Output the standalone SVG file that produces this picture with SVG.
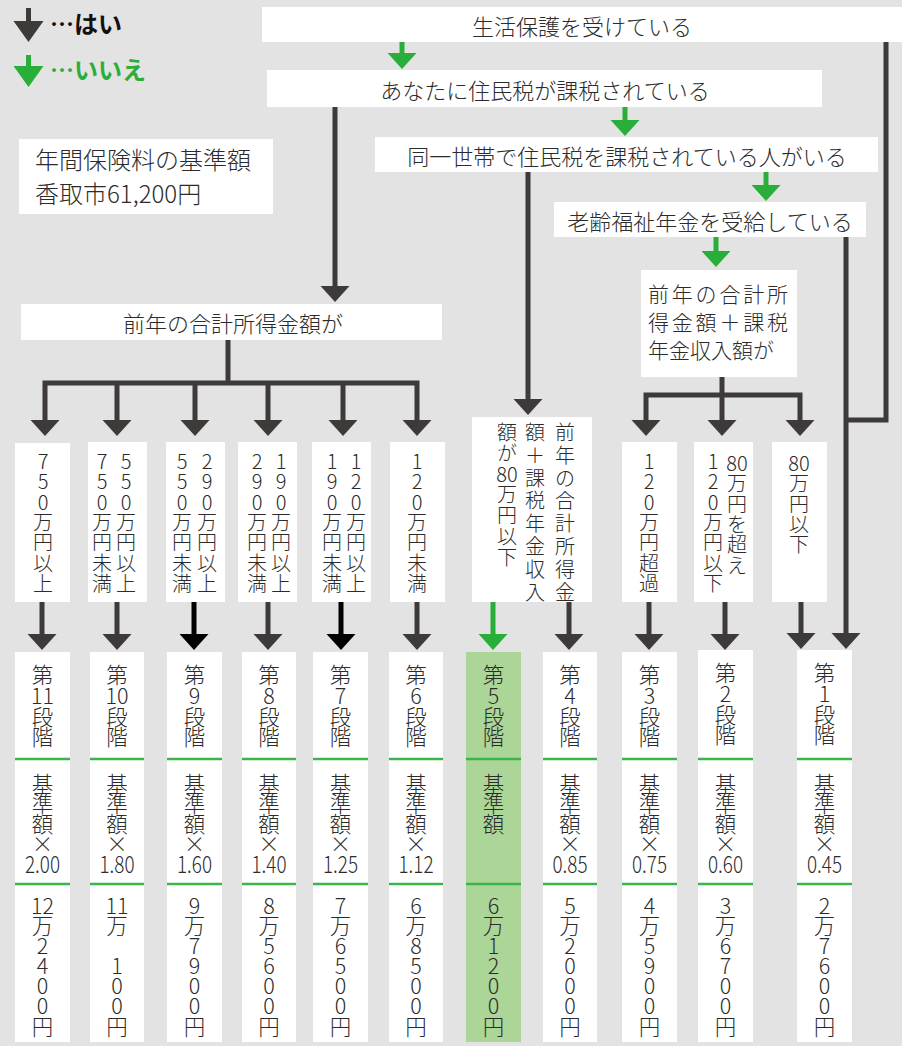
<svg xmlns="http://www.w3.org/2000/svg" xmlns:xlink="http://www.w3.org/1999/xlink" width="902" height="1046" viewBox="0 0 902 1046">
<defs>
<style>
.t{font-family:"Noto Sans CJK JP","Noto Sans",sans-serif;fill:#2b2b2b;font-weight:300}
.h{font-size:22px;text-anchor:middle;dominant-baseline:central}
.v{text-anchor:middle;dominant-baseline:central}
.r1{font-size:20px}
.bt{font-size:21.5px}
.fx{font-size:23px}
.lg{font-size:24px;font-weight:bold}
.box{fill:#fff}
.dk{stroke:#3e3a39;stroke-width:5;fill:none}
.bk{stroke:#000;stroke-width:5;fill:none}
.gn{stroke:#2aae3a;stroke-width:5;fill:none}
.dkf{fill:#3e3a39}
.bkf{fill:#000}
.gnf{fill:#2aae3a}
.div{stroke:#3cb44a;stroke-width:2.5}
</style>
<path id="hd" d="M-14.5,-16 L14.5,-16 L0,0 Z"/>
<path id="lhd" d="M-15,-21 L15,-21 L0,0 Z"/>
</defs>
<rect width="902" height="1046" fill="#e3e3e3"/>

<g id="legend">
<path class="dk" d="M28.5,8 V24"/><use xlink:href="#lhd" class="dkf" transform="translate(28.5,42)"/>
<text class="t lg" x="50" y="33" style="fill:#111">…はい</text>
<path class="gn" d="M28.5,55 V69"/><use xlink:href="#lhd" class="gnf" transform="translate(28.5,87)"/>
<text class="t lg" x="50" y="79" style="fill:#2aae3a">…いいえ</text>
</g>

<g id="connectors">
<path class="gn" d="M402,42 V55"/><use xlink:href="#hd" class="gnf" transform="translate(402,69)"/>
<path class="gn" d="M625,107 V122"/><use xlink:href="#hd" class="gnf" transform="translate(625,136)"/>
<path class="gn" d="M766,172 V187"/><use xlink:href="#hd" class="gnf" transform="translate(766,201)"/>
<path class="gn" d="M716,237 V253"/><use xlink:href="#hd" class="gnf" transform="translate(716,267)"/>
<path class="gn" d="M493,602 V636"/><use xlink:href="#hd" class="gnf" transform="translate(493,650)"/>
<path class="dk" d="M335,107 V288"/><use xlink:href="#hd" class="dkf" transform="translate(335,302)"/>
<path class="dk" d="M528,172 V401"/><use xlink:href="#hd" class="dkf" transform="translate(528,415)"/>
<path class="dk" d="M886,42 V420 H846"/>
<path class="dk" d="M846,237 V635"/><use xlink:href="#hd" class="dkf" transform="translate(846,649)"/>
<path class="dk" d="M228,340 V383"/>
<path class="dk" d="M45,422 V383 H417 V422"/>
<path class="dk" d="M117,383 V422 M195,383 V422 M268,383 V422 M343,383 V422"/>
<use xlink:href="#hd" class="dkf" transform="translate(45,436)"/>
<use xlink:href="#hd" class="dkf" transform="translate(117,436)"/>
<use xlink:href="#hd" class="dkf" transform="translate(195,436)"/>
<use xlink:href="#hd" class="dkf" transform="translate(268,436)"/>
<use xlink:href="#hd" class="dkf" transform="translate(343,436)"/>
<use xlink:href="#hd" class="dkf" transform="translate(417,436)"/>
<path class="dk" d="M722,377 V422"/>
<path class="dk" d="M646,422 V395 H800 V422"/>
<use xlink:href="#hd" class="dkf" transform="translate(646,436)"/>
<use xlink:href="#hd" class="dkf" transform="translate(722,436)"/>
<use xlink:href="#hd" class="dkf" transform="translate(800,436)"/>
<path class="dk" d="M42,602 V636"/><use xlink:href="#hd" class="dkf" transform="translate(42,650)"/>
<path class="dk" d="M117,602 V636"/><use xlink:href="#hd" class="dkf" transform="translate(117,650)"/>
<path class="bk" d="M194,602 V636"/><use xlink:href="#hd" class="bkf" transform="translate(194,650)"/>
<path class="dk" d="M268,602 V636"/><use xlink:href="#hd" class="dkf" transform="translate(268,650)"/>
<path class="bk" d="M341,602 V636"/><use xlink:href="#hd" class="bkf" transform="translate(341,650)"/>
<path class="dk" d="M417,602 V636"/><use xlink:href="#hd" class="dkf" transform="translate(417,650)"/>
<path class="dk" d="M569,602 V636"/><use xlink:href="#hd" class="dkf" transform="translate(569,650)"/>
<path class="dk" d="M649,602 V636"/><use xlink:href="#hd" class="dkf" transform="translate(649,650)"/>
<path class="dk" d="M725,602 V636"/><use xlink:href="#hd" class="dkf" transform="translate(725,650)"/>
<path class="dk" d="M801,602 V635"/><use xlink:href="#hd" class="dkf" transform="translate(801,649)"/>
</g>

<g id="q1"><rect class="box" x="262" y="7" width="640" height="35"/><text class="t h" x="582" y="24.5">生活保護を受けている</text></g>
<g id="q2"><rect class="box" x="267" y="70" width="555" height="37"/><text class="t h" x="545" y="88.5">あなたに住民税が課税されている</text></g>
<g id="q3"><rect class="box" x="375" y="137" width="503" height="35"/><text class="t h" x="627" y="154.5">同一世帯で住民税を課税されている人がいる</text></g>
<g id="q4"><rect class="box" x="554" y="202" width="312" height="35"/><text class="t h" x="710" y="219.5">老齢福祉年金を受給している</text></g>
<g id="info"><rect class="box" x="19" y="139" width="254" height="75"/>
<text class="t" x="35" y="169" font-size="24">年間保険料の基準額</text>
<text class="t" x="35" y="203" font-size="24">香取市61,200円</text></g>
<g id="q5"><rect class="box" x="21" y="304" width="421" height="36"/><text class="t h" x="233" y="322">前年の合計所得金額が</text></g>
<g id="q6"><rect class="box" x="641" y="270" width="156" height="107"/>
<text class="t" font-size="21" x="648" y="302" textLength="140" lengthAdjust="spacing">前年の合計所</text>
<text class="t" font-size="21" x="648" y="330" textLength="140" lengthAdjust="spacing">得金額＋課税</text>
<text class="t" font-size="21" x="648" y="358">年金収入額が</text></g>

<g id="c750"><rect class="box" x="15" y="443" width="55" height="159"/>
<text class="t v r1"><tspan x="43" y="460">7</tspan><tspan x="43" y="480">5</tspan><tspan x="43" y="501">0</tspan><tspan x="43" y="521">万</tspan><tspan x="43" y="541">円</tspan><tspan x="43" y="562">以</tspan><tspan x="43" y="582">上</tspan></text></g>
<g id="c550"><rect class="box" x="88" y="442" width="59" height="160"/>
<text class="t v r1"><tspan x="126" y="460">5</tspan><tspan x="126" y="480">5</tspan><tspan x="126" y="501">0</tspan><tspan x="126" y="521">万</tspan><tspan x="126" y="541">円</tspan><tspan x="126" y="562">以</tspan><tspan x="126" y="582">上</tspan></text>
<text class="t v r1"><tspan x="102" y="460">7</tspan><tspan x="102" y="480">5</tspan><tspan x="102" y="501">0</tspan><tspan x="102" y="521">万</tspan><tspan x="102" y="541">円</tspan><tspan x="102" y="562">未</tspan><tspan x="102" y="582">満</tspan></text></g>
<g id="c290"><rect class="box" x="166" y="442" width="59" height="160"/>
<text class="t v r1"><tspan x="207" y="460">2</tspan><tspan x="207" y="480">9</tspan><tspan x="207" y="501">0</tspan><tspan x="207" y="521">万</tspan><tspan x="207" y="541">円</tspan><tspan x="207" y="562">以</tspan><tspan x="207" y="582">上</tspan></text>
<text class="t v r1"><tspan x="182" y="460">5</tspan><tspan x="182" y="480">5</tspan><tspan x="182" y="501">0</tspan><tspan x="182" y="521">万</tspan><tspan x="182" y="541">円</tspan><tspan x="182" y="562">未</tspan><tspan x="182" y="582">満</tspan></text></g>
<g id="c190"><rect class="box" x="238" y="442" width="59" height="160"/>
<text class="t v r1"><tspan x="281" y="460">1</tspan><tspan x="281" y="480">9</tspan><tspan x="281" y="501">0</tspan><tspan x="281" y="521">万</tspan><tspan x="281" y="541">円</tspan><tspan x="281" y="562">以</tspan><tspan x="281" y="582">上</tspan></text>
<text class="t v r1"><tspan x="257" y="460">2</tspan><tspan x="257" y="480">9</tspan><tspan x="257" y="501">0</tspan><tspan x="257" y="521">万</tspan><tspan x="257" y="541">円</tspan><tspan x="257" y="562">未</tspan><tspan x="257" y="582">満</tspan></text></g>
<g id="c120"><rect class="box" x="312" y="442" width="59" height="160"/>
<text class="t v r1"><tspan x="356" y="460">1</tspan><tspan x="356" y="480">2</tspan><tspan x="356" y="501">0</tspan><tspan x="356" y="521">万</tspan><tspan x="356" y="541">円</tspan><tspan x="356" y="562">以</tspan><tspan x="356" y="582">上</tspan></text>
<text class="t v r1"><tspan x="332" y="460">1</tspan><tspan x="332" y="480">9</tspan><tspan x="332" y="501">0</tspan><tspan x="332" y="521">万</tspan><tspan x="332" y="541">円</tspan><tspan x="332" y="562">未</tspan><tspan x="332" y="582">満</tspan></text></g>
<g id="cu120"><rect class="box" x="390" y="442" width="55" height="160"/>
<text class="t v r1"><tspan x="417" y="460">1</tspan><tspan x="417" y="480">2</tspan><tspan x="417" y="501">0</tspan><tspan x="417" y="521">万</tspan><tspan x="417" y="541">円</tspan><tspan x="417" y="562">未</tspan><tspan x="417" y="582">満</tspan></text></g>
<g id="c80a"><rect class="box" x="472" y="417" width="120" height="185"/>
<text class="t v r1"><tspan x="565" y="431">前</tspan><tspan x="565" y="454">年</tspan><tspan x="565" y="477">の</tspan><tspan x="565" y="499">合</tspan><tspan x="565" y="522">計</tspan><tspan x="565" y="545">所</tspan><tspan x="565" y="568">得</tspan><tspan x="565" y="591">金</tspan></text>
<text class="t v r1"><tspan x="535" y="431">額</tspan><tspan x="535" y="454">＋</tspan><tspan x="535" y="477">課</tspan><tspan x="535" y="499">税</tspan><tspan x="535" y="522">年</tspan><tspan x="535" y="545">金</tspan><tspan x="535" y="568">収</tspan><tspan x="535" y="591">入</tspan></text>
<text class="t v r1"><tspan x="507" y="431">額</tspan><tspan x="507" y="452">が</tspan><tspan x="507" y="473">80</tspan><tspan x="507" y="493">万</tspan><tspan x="507" y="514">円</tspan><tspan x="507" y="535">以</tspan><tspan x="507" y="556">下</tspan></text></g>
<g id="co120"><rect class="box" x="622" y="442" width="55" height="160"/>
<text class="t v r1"><tspan x="649" y="460">1</tspan><tspan x="649" y="480">2</tspan><tspan x="649" y="501">0</tspan><tspan x="649" y="521">万</tspan><tspan x="649" y="541">円</tspan><tspan x="649" y="562">超</tspan><tspan x="649" y="582">過</tspan></text></g>
<g id="c80b"><rect class="box" x="694" y="442" width="59" height="160"/>
<text class="t v r1"><tspan x="737" y="462">80</tspan><tspan x="737" y="482">万</tspan><tspan x="737" y="503">円</tspan><tspan x="737" y="523">を</tspan><tspan x="737" y="543">超</tspan><tspan x="737" y="564">え</tspan></text>
<text class="t v r1"><tspan x="713" y="460">1</tspan><tspan x="713" y="480">2</tspan><tspan x="713" y="501">0</tspan><tspan x="713" y="521">万</tspan><tspan x="713" y="541">円</tspan><tspan x="713" y="562">以</tspan><tspan x="713" y="582">下</tspan></text></g>
<g id="cu80"><rect class="box" x="772" y="442" width="55" height="160"/>
<text class="t v r1"><tspan x="799" y="462">80</tspan><tspan x="799" y="482">万</tspan><tspan x="799" y="503">円</tspan><tspan x="799" y="523">以</tspan><tspan x="799" y="543">下</tspan></text></g>

<g id="s11"><rect class="box" x="15" y="652" width="55" height="390"/><path class="div" d="M15,759 H70 M15,884 H70"/>
<text class="t v bt"><tspan x="42.5" y="673">第</tspan><tspan x="42.5" y="694">11</tspan><tspan x="42.5" y="715">段</tspan><tspan x="42.5" y="735">階</tspan><tspan x="42.5" y="782">基</tspan><tspan x="42.5" y="802">準</tspan><tspan x="42.5" y="822">額</tspan><tspan x="42.5" y="842">×</tspan><tspan x="42.5" y="904">12</tspan><tspan x="42.5" y="924">万</tspan><tspan x="42.5" y="944">2</tspan><tspan x="42.5" y="964">4</tspan><tspan x="42.5" y="984">0</tspan><tspan x="42.5" y="1004">0</tspan><tspan x="42.5" y="1025">円</tspan></text>
<text class="t v fx" x="42.5" y="863" textLength="35" lengthAdjust="spacingAndGlyphs">2.00</text></g>
<g id="s10"><rect class="box" x="90" y="652" width="54" height="390"/><path class="div" d="M90,759 H144 M90,884 H144"/>
<text class="t v bt"><tspan x="117" y="673">第</tspan><tspan x="117" y="694">10</tspan><tspan x="117" y="715">段</tspan><tspan x="117" y="735">階</tspan><tspan x="117" y="782">基</tspan><tspan x="117" y="802">準</tspan><tspan x="117" y="822">額</tspan><tspan x="117" y="842">×</tspan><tspan x="117" y="904">11</tspan><tspan x="117" y="924">万</tspan><tspan x="117" y="964">1</tspan><tspan x="117" y="984">0</tspan><tspan x="117" y="1004">0</tspan><tspan x="117" y="1025">円</tspan></text>
<text class="t v fx" x="117" y="863" textLength="35" lengthAdjust="spacingAndGlyphs">1.80</text></g>
<g id="s9"><rect class="box" x="167" y="652" width="55" height="390"/><path class="div" d="M167,759 H222 M167,884 H222"/>
<text class="t v bt"><tspan x="194.5" y="673">第</tspan><tspan x="194.5" y="694">9</tspan><tspan x="194.5" y="715">段</tspan><tspan x="194.5" y="735">階</tspan><tspan x="194.5" y="782">基</tspan><tspan x="194.5" y="802">準</tspan><tspan x="194.5" y="822">額</tspan><tspan x="194.5" y="842">×</tspan><tspan x="194.5" y="904">9</tspan><tspan x="194.5" y="924">万</tspan><tspan x="194.5" y="944">7</tspan><tspan x="194.5" y="964">9</tspan><tspan x="194.5" y="984">0</tspan><tspan x="194.5" y="1004">0</tspan><tspan x="194.5" y="1025">円</tspan></text>
<text class="t v fx" x="194.5" y="863" textLength="35" lengthAdjust="spacingAndGlyphs">1.60</text></g>
<g id="s8"><rect class="box" x="242" y="652" width="54" height="390"/><path class="div" d="M242,759 H296 M242,884 H296"/>
<text class="t v bt"><tspan x="269" y="673">第</tspan><tspan x="269" y="694">8</tspan><tspan x="269" y="715">段</tspan><tspan x="269" y="735">階</tspan><tspan x="269" y="782">基</tspan><tspan x="269" y="802">準</tspan><tspan x="269" y="822">額</tspan><tspan x="269" y="842">×</tspan><tspan x="269" y="904">8</tspan><tspan x="269" y="924">万</tspan><tspan x="269" y="944">5</tspan><tspan x="269" y="964">6</tspan><tspan x="269" y="984">0</tspan><tspan x="269" y="1004">0</tspan><tspan x="269" y="1025">円</tspan></text>
<text class="t v fx" x="269" y="863" textLength="35" lengthAdjust="spacingAndGlyphs">1.40</text></g>
<g id="s7"><rect class="box" x="313" y="652" width="55" height="390"/><path class="div" d="M313,759 H368 M313,884 H368"/>
<text class="t v bt"><tspan x="340.5" y="673">第</tspan><tspan x="340.5" y="694">7</tspan><tspan x="340.5" y="715">段</tspan><tspan x="340.5" y="735">階</tspan><tspan x="340.5" y="782">基</tspan><tspan x="340.5" y="802">準</tspan><tspan x="340.5" y="822">額</tspan><tspan x="340.5" y="842">×</tspan><tspan x="340.5" y="904">7</tspan><tspan x="340.5" y="924">万</tspan><tspan x="340.5" y="944">6</tspan><tspan x="340.5" y="964">5</tspan><tspan x="340.5" y="984">0</tspan><tspan x="340.5" y="1004">0</tspan><tspan x="340.5" y="1025">円</tspan></text>
<text class="t v fx" x="340.5" y="863" textLength="35" lengthAdjust="spacingAndGlyphs">1.25</text></g>
<g id="s6"><rect class="box" x="389" y="652" width="54" height="390"/><path class="div" d="M389,759 H443 M389,884 H443"/>
<text class="t v bt"><tspan x="416" y="673">第</tspan><tspan x="416" y="694">6</tspan><tspan x="416" y="715">段</tspan><tspan x="416" y="735">階</tspan><tspan x="416" y="782">基</tspan><tspan x="416" y="802">準</tspan><tspan x="416" y="822">額</tspan><tspan x="416" y="842">×</tspan><tspan x="416" y="904">6</tspan><tspan x="416" y="924">万</tspan><tspan x="416" y="944">8</tspan><tspan x="416" y="964">5</tspan><tspan x="416" y="984">0</tspan><tspan x="416" y="1004">0</tspan><tspan x="416" y="1025">円</tspan></text>
<text class="t v fx" x="416" y="863" textLength="35" lengthAdjust="spacingAndGlyphs">1.12</text></g>
<g id="s5"><rect x="466" y="652" width="55" height="390" fill="#acd598"/><path class="div" d="M466,759 H521 M466,884 H521"/>
<text class="t v bt"><tspan x="493.5" y="673">第</tspan><tspan x="493.5" y="694">5</tspan><tspan x="493.5" y="715">段</tspan><tspan x="493.5" y="735">階</tspan><tspan x="493.5" y="782">基</tspan><tspan x="493.5" y="802">準</tspan><tspan x="493.5" y="822">額</tspan><tspan x="493.5" y="904">6</tspan><tspan x="493.5" y="924">万</tspan><tspan x="493.5" y="944">1</tspan><tspan x="493.5" y="964">2</tspan><tspan x="493.5" y="984">0</tspan><tspan x="493.5" y="1004">0</tspan><tspan x="493.5" y="1025">円</tspan></text></g>
<g id="s4"><rect class="box" x="543" y="652" width="54" height="390"/><path class="div" d="M543,759 H597 M543,884 H597"/>
<text class="t v bt"><tspan x="570" y="673">第</tspan><tspan x="570" y="694">4</tspan><tspan x="570" y="715">段</tspan><tspan x="570" y="735">階</tspan><tspan x="570" y="782">基</tspan><tspan x="570" y="802">準</tspan><tspan x="570" y="822">額</tspan><tspan x="570" y="842">×</tspan><tspan x="570" y="904">5</tspan><tspan x="570" y="924">万</tspan><tspan x="570" y="944">2</tspan><tspan x="570" y="964">0</tspan><tspan x="570" y="984">0</tspan><tspan x="570" y="1004">0</tspan><tspan x="570" y="1025">円</tspan></text>
<text class="t v fx" x="570" y="863" textLength="35" lengthAdjust="spacingAndGlyphs">0.85</text></g>
<g id="s3"><rect class="box" x="622" y="652" width="55" height="390"/><path class="div" d="M622,759 H677 M622,884 H677"/>
<text class="t v bt"><tspan x="649.5" y="673">第</tspan><tspan x="649.5" y="694">3</tspan><tspan x="649.5" y="715">段</tspan><tspan x="649.5" y="735">階</tspan><tspan x="649.5" y="782">基</tspan><tspan x="649.5" y="802">準</tspan><tspan x="649.5" y="822">額</tspan><tspan x="649.5" y="842">×</tspan><tspan x="649.5" y="904">4</tspan><tspan x="649.5" y="924">万</tspan><tspan x="649.5" y="944">5</tspan><tspan x="649.5" y="964">9</tspan><tspan x="649.5" y="984">0</tspan><tspan x="649.5" y="1004">0</tspan><tspan x="649.5" y="1025">円</tspan></text>
<text class="t v fx" x="649.5" y="863" textLength="35" lengthAdjust="spacingAndGlyphs">0.75</text></g>
<g id="s2"><rect class="box" x="698" y="650" width="55" height="392"/><path class="div" d="M698,759 H753 M698,884 H753"/>
<text class="t v bt"><tspan x="725.5" y="671">第</tspan><tspan x="725.5" y="692">2</tspan><tspan x="725.5" y="713">段</tspan><tspan x="725.5" y="733">階</tspan><tspan x="725.5" y="782">基</tspan><tspan x="725.5" y="802">準</tspan><tspan x="725.5" y="822">額</tspan><tspan x="725.5" y="842">×</tspan><tspan x="725.5" y="904">3</tspan><tspan x="725.5" y="924">万</tspan><tspan x="725.5" y="944">6</tspan><tspan x="725.5" y="964">7</tspan><tspan x="725.5" y="984">0</tspan><tspan x="725.5" y="1004">0</tspan><tspan x="725.5" y="1025">円</tspan></text>
<text class="t v fx" x="725.5" y="863" textLength="35" lengthAdjust="spacingAndGlyphs">0.60</text></g>
<g id="s1"><rect class="box" x="797" y="650" width="55" height="392"/><path class="div" d="M797,759 H852 M797,884 H852"/>
<text class="t v bt"><tspan x="824.5" y="671">第</tspan><tspan x="824.5" y="692">1</tspan><tspan x="824.5" y="713">段</tspan><tspan x="824.5" y="733">階</tspan><tspan x="824.5" y="782">基</tspan><tspan x="824.5" y="802">準</tspan><tspan x="824.5" y="822">額</tspan><tspan x="824.5" y="842">×</tspan><tspan x="824.5" y="904">2</tspan><tspan x="824.5" y="924">万</tspan><tspan x="824.5" y="944">7</tspan><tspan x="824.5" y="964">6</tspan><tspan x="824.5" y="984">0</tspan><tspan x="824.5" y="1004">0</tspan><tspan x="824.5" y="1025">円</tspan></text>
<text class="t v fx" x="824.5" y="863" textLength="35" lengthAdjust="spacingAndGlyphs">0.45</text></g>
</svg>
